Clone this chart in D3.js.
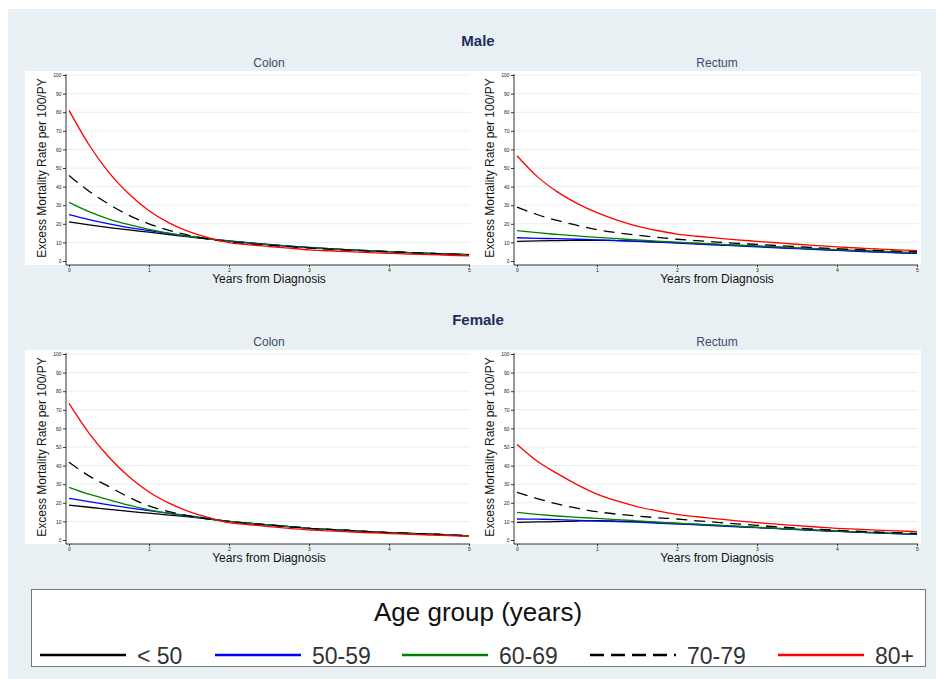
<!DOCTYPE html>
<html lang="en">
  <head>
    <meta charset="UTF-8" />
    <title>Excess Mortality Rate</title>
    <style>
      body { margin: 0; background: #fff; }
      svg { display: block; font-family: "Liberation Sans", Arial, sans-serif; }
    </style>
  </head>
  <body>
    <svg id="chart" width="936" height="679"></svg>

    <script src="https://d3js.org/d3.v7.min.js"></script>
    <script>
      // values, every quarter year
      const years = [0, 0.25, 0.5, 0.75, 1, 1.25, 1.5, 1.75, 2, 2.25, 2.5, 2.75, 3, 3.25, 3.5, 3.75, 4, 4.25, 4.5, 4.75, 5];
      const ageGroups = ["< 50", "50-59", "60-69", "70-79", "80+"];
      const xTicks = [0, 1, 2, 3, 4, 5];
      const yTicks = [0, 10, 20, 30, 40, 50, 60, 70, 80, 90, 100];

      // one row per age group, same order as ageGroups
      const maleColon = [
        [21, 19.4, 18, 16.7, 15.5, 14.2, 13, 11.8, 10.7, 9.7, 8.8, 8.0, 7.2, 6.6, 6.0, 5.5, 5.0, 4.5, 4.1, 3.7, 3.3],
        [25, 22.3, 20, 18, 16.4, 14.7, 13.2, 11.9, 10.8, 9.8, 8.9, 8.0, 7.3, 6.6, 6.0, 5.5, 5.0, 4.5, 4.1, 3.7, 3.4],
        [31.5, 26.5, 22.5, 19.5, 17, 15, 13.3, 11.9, 10.7, 9.6, 8.7, 7.9, 7.2, 6.6, 6.0, 5.5, 5.0, 4.5, 4.1, 3.7, 3.4],
        [46, 37.5, 30.5, 24.5, 20, 16.5, 13.8, 11.8, 10.3, 9.3, 8.5, 7.7, 7.0, 6.4, 5.8, 5.3, 4.9, 4.5, 4.1, 3.7, 3.4],
        [81, 62.5, 47.5, 36, 27, 20.5, 15.8, 12.4, 9.9, 8.7, 7.8, 6.9, 6.0, 5.5, 5.0, 4.5, 4.1, 3.7, 3.4, 3.1, 2.8]
      ];
      const maleRectum = [
        [10.5, 10.8, 11, 11.1, 11.1, 11, 10.7, 10.3, 9.9, 9.4, 8.9, 8.4, 7.9, 7.4, 6.9, 6.4, 5.9, 5.4, 5.0, 4.5, 4.1],
        [12.5, 12.2, 12, 11.7, 11.4, 11, 10.6, 10.1, 9.6, 9.1, 8.6, 8.1, 7.6, 7.1, 6.6, 6.1, 5.7, 5.2, 4.8, 4.4, 4.1],
        [16.3, 15.2, 14.3, 13.5, 12.7, 12, 11.3, 10.7, 10.1, 9.6, 9.1, 8.6, 8.1, 7.6, 7.1, 6.6, 6.1, 5.7, 5.3, 4.9, 4.6],
        [29, 25, 21.8, 19.2, 16.8, 15.2, 13.9, 12.7, 11.7, 10.9, 10.2, 9.5, 8.9, 8.3, 7.7, 7.1, 6.6, 6.1, 5.7, 5.3, 5.0],
        [56.6, 45.5, 37.3, 31, 26, 22, 18.8, 16.4, 14.5, 13.3, 12.3, 11.4, 10.6, 9.8, 9.0, 8.3, 7.6, 7.0, 6.5, 6.0, 5.6]
      ];
      const femaleColon = [
        [18.8, 17.6, 16.5, 15.4, 14.4, 13.4, 12.4, 11.2, 10.0, 9.0, 8.1, 7.2, 6.3, 5.7, 5.1, 4.5, 4.0, 3.6, 3.2, 2.7, 2.3],
        [22.4, 20.6, 18.9, 17.3, 15.8, 14.4, 13.0, 11.5, 10.0, 9.0, 8.1, 7.2, 6.3, 5.7, 5.1, 4.5, 4.0, 3.6, 3.2, 2.7, 2.3],
        [28.3, 24.6, 21.6, 18.7, 16.2, 14.3, 12.7, 11.3, 10.0, 9.0, 8.1, 7.2, 6.3, 5.7, 5.1, 4.5, 4.0, 3.6, 3.2, 2.7, 2.3],
        [41.8, 34.5, 28.7, 23, 18.3, 15.3, 13, 11.2, 9.8, 8.9, 8.0, 7.1, 6.3, 5.7, 5.1, 4.5, 4.0, 3.6, 3.2, 2.7, 2.3],
        [73.5, 57.5, 44.5, 34, 25.8, 19.8, 15.3, 12, 9.3, 8.2, 7.2, 6.2, 5.4, 4.9, 4.4, 3.9, 3.5, 3.1, 2.7, 2.3, 2.0]
      ];
      const femaleRectum = [
        [9.5, 9.7, 9.9, 10.2, 10.4, 10.2, 9.9, 9.4, 8.9, 8.4, 7.9, 7.3, 6.8, 6.2, 5.7, 5.2, 4.7, 4.2, 3.8, 3.4, 3.1],
        [11.3, 11.2, 11, 10.6, 10.2, 9.9, 9.6, 9.1, 8.6, 8.1, 7.6, 7.1, 6.6, 6.1, 5.6, 5.1, 4.6, 4.2, 3.8, 3.4, 3.1],
        [14.9, 13.8, 12.9, 12.2, 11.6, 11, 10.3, 9.6, 9, 8.5, 8, 7.4, 6.8, 6.3, 5.8, 5.3, 4.8, 4.4, 4.0, 3.6, 3.3],
        [25.6, 22.3, 19.4, 17.1, 15.2, 13.9, 12.9, 12, 11.3, 10.3, 9.5, 8.7, 7.9, 7.1, 6.4, 5.8, 5.2, 4.7, 4.3, 3.9, 3.5],
        [51.4, 42.5, 35.8, 29.8, 24.7, 21, 18, 15.7, 13.8, 12.5, 11.4, 10.3, 9.3, 8.5, 7.7, 7.0, 6.3, 5.8, 5.3, 4.9, 4.5]
      ];

      const colors = ["#000000", "#0000ff", "#008000", "#000000", "#ff0000"];
      const dashes = [null, null, null, "11,7", null];
      // left edge of each legend key
      const legendX = [40, 215, 402, 590, 778];

      const svg = d3.select("#chart");

      // grey-blue graph region
      svg.append("rect")
        .attr("x", 8).attr("y", 9)
        .attr("width", 928).attr("height", 670)
        .attr("fill", "#e8f0f3");

      function drawPanel(left, top, rows, subtitle) {
        // left = pixel of year 0, top = pixel of value 100
        const x = d3.scaleLinear().domain([0, 5]).range([left, left + 400]);
        const y = d3.scaleLinear().domain([0, 100]).range([top + 186, top]);
        const axisX = left - 3;
        const axisY = top + 190;

        const g = svg.append("g");

        g.append("rect")
          .attr("x", left - 44).attr("y", top - 4)
          .attr("width", 448).attr("height", axisY - top + 4)
          .attr("fill", "#ffffff");

        // grid
        g.append("g")
          .selectAll("line")
          .data(yTicks.slice(1))
          .join("line")
          .attr("x1", axisX).attr("x2", left + 401)
          .attr("y1", (d) => y(d)).attr("y2", (d) => y(d))
          .attr("stroke", "#e7eef0")
          .attr("stroke-width", 1);

        const yAxis = g.append("g")
          .attr("transform", `translate(${axisX},0)`)
          .call(d3.axisLeft(y).tickValues(yTicks).tickFormat(d3.format("d")).tickSize(3).tickPadding(1.5));
        const xAxis = g.append("g")
          .attr("transform", `translate(0,${axisY})`)
          .call(d3.axisBottom(x).tickValues(xTicks).tickFormat(d3.format("d")).tickSize(2).tickPadding(1.5));

        [yAxis, xAxis].forEach((a) => {
          a.select(".domain").remove();
          a.selectAll("line").attr("stroke", "#333");
          a.selectAll("text")
            .attr("font-size", 5)
            .attr("fill", "#222")
            .attr("font-family", "Liberation Sans, Arial, sans-serif");
        });

        g.append("line")
          .attr("x1", axisX).attr("x2", axisX)
          .attr("y1", top - 1).attr("y2", axisY)
          .attr("stroke", "#333");
        g.append("line")
          .attr("x1", axisX).attr("x2", left + 401)
          .attr("y1", axisY).attr("y2", axisY)
          .attr("stroke", "#333");

        const line = d3.line()
          .x((d, i) => x(years[i]))
          .y((d) => y(d))
          .curve(d3.curveMonotoneX);

        g.append("g")
          .selectAll("path")
          .data(rows)
          .join("path")
          .attr("d", line)
          .attr("fill", "none")
          .attr("stroke", (d, i) => colors[i])
          .attr("stroke-width", 1.3)
          .attr("stroke-dasharray", (d, i) => dashes[i]);

        // titles
        g.append("text")
          .attr("x", left + 200).attr("y", top - 8)
          .attr("text-anchor", "middle")
          .attr("font-size", 12)
          .attr("fill", "#3d4a69")
          .text(subtitle);

        g.append("text")
          .attr("x", left + 200).attr("y", axisY + 18)
          .attr("text-anchor", "middle")
          .attr("font-size", 12)
          .attr("fill", "#111")
          .text("Years from Diagnosis");

        g.append("text")
          .attr("transform", `translate(${left - 23},${top + 93}) rotate(-90)`)
          .attr("text-anchor", "middle")
          .attr("font-size", 12)
          .attr("fill", "#111")
          .text("Excess Mortality Rate per 100/PY");
      }

      svg.append("text")
        .attr("x", 478).attr("y", 46)
        .attr("text-anchor", "middle")
        .attr("font-size", 15).attr("font-weight", "bold")
        .attr("fill", "#1f2d5c")
        .text("Male");
      svg.append("text")
        .attr("x", 478).attr("y", 325)
        .attr("text-anchor", "middle")
        .attr("font-size", 15).attr("font-weight", "bold")
        .attr("fill", "#1f2d5c")
        .text("Female");

      drawPanel(69, 75, maleColon, "Colon");
      drawPanel(517, 75, maleRectum, "Rectum");
      drawPanel(69, 354, femaleColon, "Colon");
      drawPanel(517, 354, femaleRectum, "Rectum");

      // legend
      const legend = svg.append("g");
      legend.append("rect")
        .attr("x", 31.5).attr("y", 589.5)
        .attr("width", 894).attr("height", 77)
        .attr("fill", "#fff")
        .attr("stroke", "#777");
      legend.append("text")
        .attr("x", 478).attr("y", 621)
        .attr("text-anchor", "middle")
        .attr("font-size", 26)
        .attr("fill", "#111")
        .text("Age group (years)");

      const item = legend.selectAll("g.item")
        .data(ageGroups)
        .join("g")
        .attr("class", "item")
        .attr("transform", (d, i) => `translate(${legendX[i]},655)`);
      item.append("line")
        .attr("x1", 0).attr("x2", 86)
        .attr("stroke", (d, i) => colors[i])
        .attr("stroke-width", 2.5)
        .attr("stroke-dasharray", (d, i) => (dashes[i] ? "14,7" : null));
      item.append("text")
        .attr("x", 97).attr("y", 9)
        .attr("font-size", 23)
        .attr("fill", "#333")
        .text((d) => d);
    </script>
  </body>
</html>
